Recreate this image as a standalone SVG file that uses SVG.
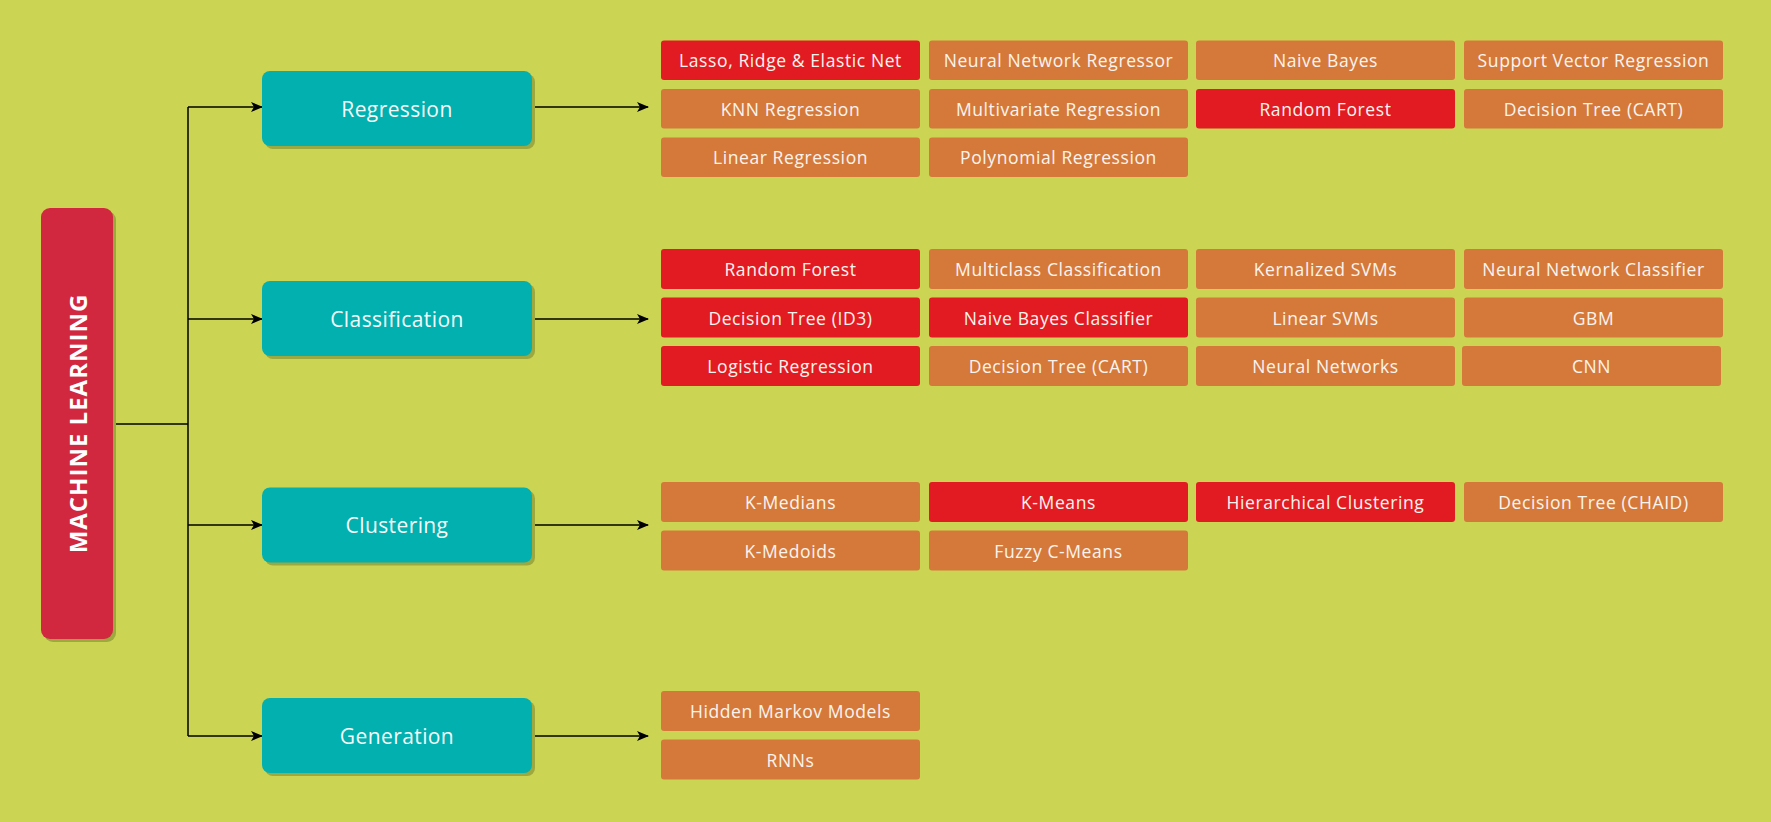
<svg xmlns="http://www.w3.org/2000/svg" width="1771" height="822" viewBox="0 0 1771 822">
<defs>
<style>
.bg{fill:#CBD553}
.sh{fill:#9DA83E}
.cat{fill:#02B0AF}
.red{fill:#E21B23}
.org{fill:#D5793B}
.lt{font-family:"Open Sans","Liberation Sans",sans-serif;font-size:17.5px;letter-spacing:0.6px;fill:#FBF4EE;text-anchor:middle;dominant-baseline:central}
.ct{font-family:"Open Sans","Liberation Sans",sans-serif;font-size:21px;letter-spacing:0.4px;fill:#F4FAF8;text-anchor:middle;dominant-baseline:central}
.ml{font-family:"Open Sans","Liberation Sans",sans-serif;font-size:24px;font-weight:bold;fill:#FFFFFF;text-anchor:middle;dominant-baseline:central}
.ln{stroke:#000;stroke-width:1.5;fill:none}
</style>
<marker id="arr" markerWidth="12" markerHeight="10" refX="11" refY="5" orient="auto" markerUnits="userSpaceOnUse">
<path d="M0,0 L12,5 L0,10 L3,5 Z" fill="#000"/>
</marker>
</defs>
<rect class="bg" x="0" y="0" width="1771" height="822"/>

<g id="connectors">
<path class="ln" d="M113,424 H188"/>
<path class="ln" d="M188,107 V736"/>
<path class="ln" d="M188,107 H262" marker-end="url(#arr)"/>
<path class="ln" d="M188,319 H262" marker-end="url(#arr)"/>
<path class="ln" d="M188,525 H262" marker-end="url(#arr)"/>
<path class="ln" d="M188,736 H262" marker-end="url(#arr)"/>
<path class="ln" d="M532,107 H648" marker-end="url(#arr)"/>
<path class="ln" d="M532,319 H648" marker-end="url(#arr)"/>
<path class="ln" d="M532,525 H648" marker-end="url(#arr)"/>
<path class="ln" d="M532,736 H648" marker-end="url(#arr)"/>
</g>

<g id="ml">
<rect class="sh" x="44" y="211" width="72" height="431" rx="9"/>
<rect x="41" y="208" width="72" height="431" rx="9" fill="#D2283F"/>
<text class="ml" transform="translate(77.5,423.5) rotate(-90)" letter-spacing="1">MACHINE  LEARNING</text>
</g>

<g id="regression">
<rect class="sh" x="265" y="74" width="270" height="75" rx="8"/>
<rect class="cat" x="262" y="71" width="270" height="75" rx="8"/>
<text class="ct" x="397" y="108.5">Regression</text>
</g>
<g id="classification">
<rect class="sh" x="265" y="284" width="270" height="75" rx="8"/>
<rect class="cat" x="262" y="281" width="270" height="75" rx="8"/>
<text class="ct" x="397" y="318.5">Classification</text>
</g>
<g id="clustering">
<rect class="sh" x="265" y="490.5" width="270" height="75" rx="8"/>
<rect class="cat" x="262" y="487.5" width="270" height="75" rx="8"/>
<text class="ct" x="397" y="525">Clustering</text>
</g>
<g id="generation">
<rect class="sh" x="265" y="701" width="270" height="75" rx="8"/>
<rect class="cat" x="262" y="698" width="270" height="75" rx="8"/>
<text class="ct" x="397" y="735.5">Generation</text>
</g>

<g id="reg-leaves">
<g id="r1"><rect class="red" x="661" y="40.5" width="259" height="39.5" rx="3"/><text class="lt" x="790.5" y="60.25">Lasso, Ridge &amp; Elastic Net</text></g>
<g id="r2"><rect class="org" x="929" y="40.5" width="259" height="39.5" rx="3"/><text class="lt" x="1058.5" y="60.25">Neural Network Regressor</text></g>
<g id="r3"><rect class="org" x="1196" y="40.5" width="259" height="39.5" rx="3"/><text class="lt" x="1325.5" y="60.25">Naive Bayes</text></g>
<g id="r4"><rect class="org" x="1464" y="40.5" width="259" height="39.5" rx="3"/><text class="lt" x="1593.5" y="60.25">Support Vector Regression</text></g>
<g id="r5"><rect class="org" x="661" y="89" width="259" height="39.5" rx="3"/><text class="lt" x="790.5" y="108.75">KNN Regression</text></g>
<g id="r6"><rect class="org" x="929" y="89" width="259" height="39.5" rx="3"/><text class="lt" x="1058.5" y="108.75">Multivariate Regression</text></g>
<g id="r7"><rect class="red" x="1196" y="89" width="259" height="39.5" rx="3"/><text class="lt" x="1325.5" y="108.75">Random Forest</text></g>
<g id="r8"><rect class="org" x="1464" y="89" width="259" height="39.5" rx="3"/><text class="lt" x="1593.5" y="108.75">Decision Tree (CART)</text></g>
<g id="r9"><rect class="org" x="661" y="137.5" width="259" height="39.5" rx="3"/><text class="lt" x="790.5" y="157.25">Linear Regression</text></g>
<g id="r10"><rect class="org" x="929" y="137.5" width="259" height="39.5" rx="3"/><text class="lt" x="1058.5" y="157.25">Polynomial Regression</text></g>
</g>

<g id="cls-leaves">
<g id="c1"><rect class="red" x="661" y="249" width="259" height="40" rx="3"/><text class="lt" x="790.5" y="269">Random Forest</text></g>
<g id="c2"><rect class="org" x="929" y="249" width="259" height="40" rx="3"/><text class="lt" x="1058.5" y="269">Multiclass Classification</text></g>
<g id="c3"><rect class="org" x="1196" y="249" width="259" height="40" rx="3"/><text class="lt" x="1325.5" y="269">Kernalized SVMs</text></g>
<g id="c4"><rect class="org" x="1464" y="249" width="259" height="40" rx="3"/><text class="lt" x="1593.5" y="269">Neural Network Classifier</text></g>
<g id="c5"><rect class="red" x="661" y="297.5" width="259" height="40" rx="3"/><text class="lt" x="790.5" y="317.5">Decision Tree (ID3)</text></g>
<g id="c6"><rect class="red" x="929" y="297.5" width="259" height="40" rx="3"/><text class="lt" x="1058.5" y="317.5">Naive Bayes Classifier</text></g>
<g id="c7"><rect class="org" x="1196" y="297.5" width="259" height="40" rx="3"/><text class="lt" x="1325.5" y="317.5">Linear SVMs</text></g>
<g id="c8"><rect class="org" x="1464" y="297.5" width="259" height="40" rx="3"/><text class="lt" x="1593.5" y="317.5">GBM</text></g>
<g id="c9"><rect class="red" x="661" y="346" width="259" height="40" rx="3"/><text class="lt" x="790.5" y="366">Logistic Regression</text></g>
<g id="c10"><rect class="org" x="929" y="346" width="259" height="40" rx="3"/><text class="lt" x="1058.5" y="366">Decision Tree (CART)</text></g>
<g id="c11"><rect class="org" x="1196" y="346" width="259" height="40" rx="3"/><text class="lt" x="1325.5" y="366">Neural Networks</text></g>
<g id="c12"><rect class="org" x="1462" y="346" width="259" height="40" rx="3"/><text class="lt" x="1591.5" y="366">CNN</text></g>
</g>

<g id="clu-leaves">
<g id="k1"><rect class="org" x="661" y="482" width="259" height="40" rx="3"/><text class="lt" x="790.5" y="502">K-Medians</text></g>
<g id="k2"><rect class="red" x="929" y="482" width="259" height="40" rx="3"/><text class="lt" x="1058.5" y="502">K-Means</text></g>
<g id="k3"><rect class="red" x="1196" y="482" width="259" height="40" rx="3"/><text class="lt" x="1325.5" y="502">Hierarchical Clustering</text></g>
<g id="k4"><rect class="org" x="1464" y="482" width="259" height="40" rx="3"/><text class="lt" x="1593.5" y="502">Decision Tree (CHAID)</text></g>
<g id="k5"><rect class="org" x="661" y="530.5" width="259" height="40" rx="3"/><text class="lt" x="790.5" y="550.5">K-Medoids</text></g>
<g id="k6"><rect class="org" x="929" y="530.5" width="259" height="40" rx="3"/><text class="lt" x="1058.5" y="550.5">Fuzzy C-Means</text></g>
</g>

<g id="gen-leaves">
<g id="g1"><rect class="org" x="661" y="691" width="259" height="40" rx="3"/><text class="lt" x="790.5" y="711">Hidden Markov Models</text></g>
<g id="g2"><rect class="org" x="661" y="739.5" width="259" height="40" rx="3"/><text class="lt" x="790.5" y="759.5">RNNs</text></g>
</g>
</svg>
